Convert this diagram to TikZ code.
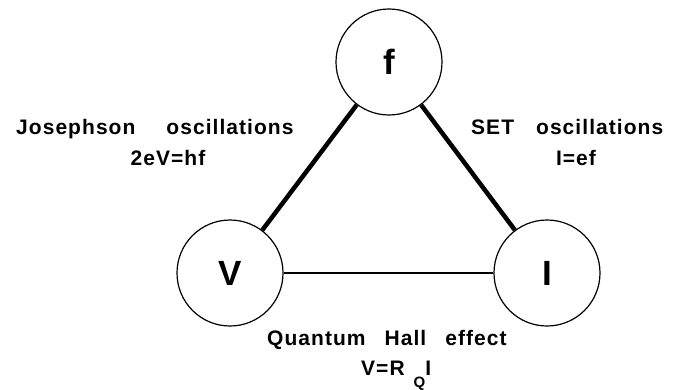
\documentclass[tikz,border=0pt]{standalone}
\usepackage{fontspec}
\setmainfont{Liberation Sans}
\begin{document}
\begin{tikzpicture}[x=1pt,y=1pt,
  circ/.style={circle, draw, line width=1.2pt, minimum size=106pt, inner sep=0pt,
    font=\fontsize{35}{35}\selectfont\bfseries},
  lbl/.style={inner sep=0pt, anchor=base west,
    font=\fontsize{21}{21}\selectfont\bfseries\addfontfeature{LetterSpace=5}},
  thick link/.style={line width=4.5pt},
  thin link/.style={line width=2.7pt}]
\useasboundingbox (0,0) rectangle (676,389);
\node[circ] (f) at (389,327) {f};
\node[circ] (V) at (230,116) {V};
\node[circ] (I) at (547,116) {I};
\draw[thick link] (f) -- (V);
\draw[thick link] (f) -- (I);
\draw[thin link] (V) -- (I);
\node[lbl] (jos) at (16,255) {Josephson\hspace{31pt}oscillations};
\node[lbl, anchor=base] (jeq) at (168,224) {2eV=hf};
\node[lbl] (set) at (471,255) {SET\hspace{22pt}oscillations};
\node[lbl, anchor=base] (ieq) at (576,224) {I=ef};
\node[lbl] (qhe) at (267,44) {Quantum\hspace{19pt}Hall\hspace{19pt}effect};
\node[lbl] (vri) at (361,14) {V=R\hspace{9pt}\raisebox{-12pt}{\fontsize{15}{15}\selectfont\bfseries\addfontfeature{LetterSpace=5}Q}I};
\end{tikzpicture}
\end{document}
